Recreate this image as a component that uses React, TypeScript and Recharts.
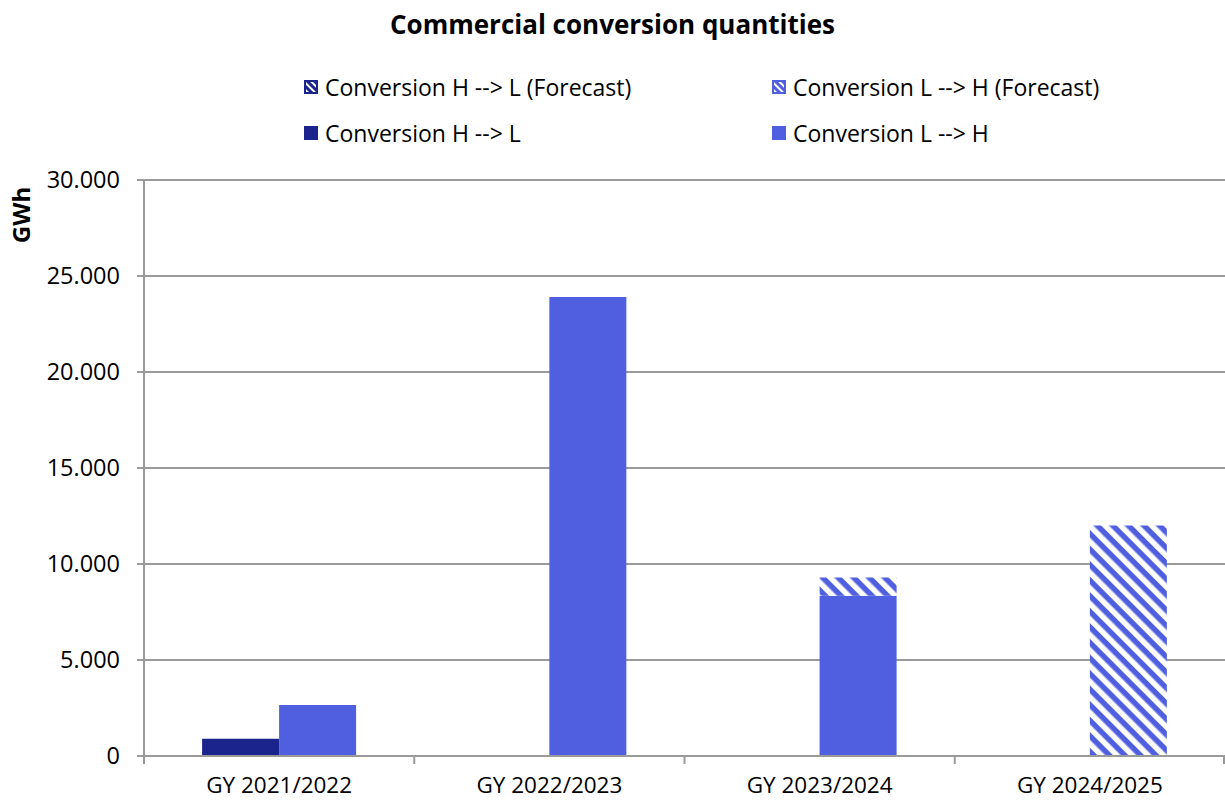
import React from 'react';
import { BarChart, Bar, XAxis, YAxis, CartesianGrid } from 'recharts';

const FONT = '"Open Sans", "Noto Sans", sans-serif';
const DARK = '#1B238C';
const LIGHT = '#505FE0';
const GRID = '#9a9a9a';

const categories = ['GY 2021/2022', 'GY 2022/2023', 'GY 2023/2024', 'GY 2024/2025'];
const hlActual = [900, 0, 0, 0];
const hlForecast = [0, 0, 0, 0];
const lhActual = [2650, 23900, 8350, 0];
const lhForecast = [0, 0, 950, 12000];
const yTicks = [0, 5000, 10000, 15000, 20000, 25000, 30000];

const data = categories.map((name, i) => ({
  name,
  hlActual: hlActual[i],
  hlForecast: hlForecast[i],
  lhActual: lhActual[i],
  lhForecast: lhForecast[i],
}));

const legendItems = [
  { label: 'Conversion H --> L (Forecast)', color: DARK, hatched: true },
  { label: 'Conversion L --> H (Forecast)', color: LIGHT, hatched: true },
  { label: 'Conversion H --> L', color: DARK, hatched: false },
  { label: 'Conversion L --> H', color: LIGHT, hatched: false },
];

const fmt = (v: number) => String(v).replace(/\B(?=(\d{3})+(?!\d))/g, '.');

const CHART_W = 1225;
const CHART_H = 801;
const PLOT_LEFT = 144;

function XTick(props: any) {
  const { x, y, payload, index } = props;
  const band = (CHART_W - PLOT_LEFT) / categories.length;
  const top = y - 8;
  return (
    <g>
      <line x1={x - band / 2} x2={x - band / 2} y1={top} y2={top + 8} stroke={GRID} strokeWidth={2} />
      {index === categories.length - 1 && (
        <line x1={x + band / 2 - 1} x2={x + band / 2 - 1} y1={top} y2={top + 8} stroke={GRID} strokeWidth={2} />
      )}
      <text x={x} y={top + 21} dy="0.71em" textAnchor="middle" fontFamily={FONT} fontSize={22.5} fill="#000">
        {payload.value}
      </text>
    </g>
  );
}

function LegendIcon({ color, hatched, id }: { color: string; hatched: boolean; id: string }) {
  return (
    <svg width={14} height={14} style={{ marginRight: 7, flex: 'none' }}>
      {hatched && (
        <defs>
          <pattern id={id} patternUnits="userSpaceOnUse" width={5} height={5} patternTransform="rotate(45)">
            <rect width={5} height={2} fill="#fff" />
          </pattern>
        </defs>
      )}
      <rect x={0.5} y={0.5} width={13} height={13} fill={color} stroke={color} />
      {hatched && <rect x={2} y={2} width={10} height={10} fill={`url(#${id})`} />}
    </svg>
  );
}

export default function App() {
  return (
    <div style={{ position: 'absolute', left: 0, top: 0, width: CHART_W, height: CHART_H, background: '#fff', fontFamily: FONT, overflow: 'hidden' }}>
      <div style={{ position: 'absolute', top: 6, left: 0, width: CHART_W, textAlign: 'center', fontWeight: 700, fontSize: 26, color: '#000' }}>
        Commercial conversion quantities
      </div>
      {legendItems.map((item, i) => (
        <div
          key={item.label}
          style={{
            position: 'absolute',
            left: i % 2 === 0 ? 304 : 772,
            top: i < 2 ? 71 : 117,
            height: 32,
            display: 'flex',
            alignItems: 'center',
            fontSize: 23,
            color: '#000',
            whiteSpace: 'nowrap',
          }}
        >
          <LegendIcon color={item.color} hatched={item.hatched} id={`lg${i}`} />
          <span>{item.label}</span>
        </div>
      ))}
      <BarChart
        width={CHART_W}
        height={CHART_H}
        data={data}
        margin={{ top: 180, right: 0, left: 0, bottom: 0 }}
        barCategoryGap="21.5%"
        barGap={0}
        style={{ position: 'absolute', left: 0, top: 0 }}
      >
        <defs>
          <pattern id="hatchLight" patternUnits="userSpaceOnUse" width={11} height={11} patternTransform="rotate(45)">
            <rect width={11} height={11} fill="#fff" />
            <rect width={11} height={5.5} fill={LIGHT} />
          </pattern>
          <pattern id="hatchDark" patternUnits="userSpaceOnUse" width={11} height={11} patternTransform="rotate(45)">
            <rect width={11} height={11} fill="#fff" />
            <rect width={11} height={5.5} fill={DARK} />
          </pattern>
        </defs>
        <CartesianGrid vertical={false} stroke={GRID} strokeWidth={2} />
        <XAxis
          dataKey="name"
          height={45}
          stroke={GRID}
          strokeWidth={2}
          tickLine={false}
          tick={<XTick />}
          interval={0}
        />
        <YAxis
          width={PLOT_LEFT}
          domain={[0, 30000]}
          ticks={yTicks}
          interval={0}
          tickFormatter={fmt}
          stroke={GRID}
          strokeWidth={2}
          tickSize={7}
          tickMargin={17}
          tick={{ fill: '#000', fontSize: 23.5, fontFamily: FONT }}
        />
        <Bar dataKey="hlActual" stackId="hl" fill={DARK} isAnimationActive={false} />
        <Bar dataKey="hlForecast" stackId="hl" fill="url(#hatchDark)" isAnimationActive={false} />
        <Bar dataKey="lhActual" stackId="lh" fill={LIGHT} isAnimationActive={false} />
        <Bar dataKey="lhForecast" stackId="lh" fill="url(#hatchLight)" isAnimationActive={false} />
      </BarChart>
      <div
        style={{
          position: 'absolute',
          left: 21 - 40,
          top: 215 - 16,
          width: 80,
          height: 32,
          lineHeight: '32px',
          textAlign: 'center',
          transform: 'rotate(-90deg)',
          fontSize: 24,
          fontWeight: 700,
          color: '#000',
        }}
      >
        GWh
      </div>
    </div>
  );
}
